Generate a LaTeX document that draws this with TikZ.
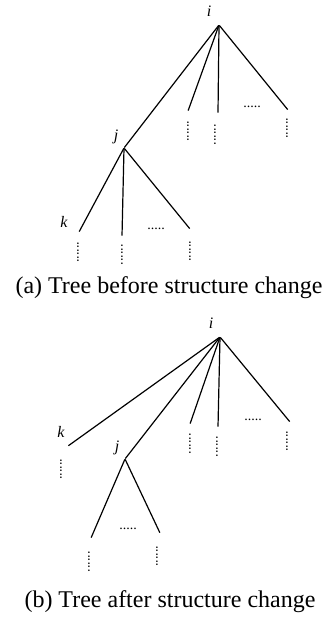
\documentclass[tikz,border=0pt]{standalone}
\usepackage{fontspec}
\setmainfont{Liberation Serif}
\usetikzlibrary{positioning}
\begin{document}
\begin{tikzpicture}[
  x=0.5pt, y=-0.5pt,
  pt/.style={inner sep=0pt, minimum size=0pt},
  lbl/.style={font=\fontsize{8}{9}\selectfont\itshape, inner sep=0pt},
  edge/.style={draw=black, line width=0.6pt},
  hdots/.style={font=\fontsize{7}{8}\selectfont, inner sep=0pt},
  vdots/.style={hdots, rotate=90},
  caption/.style={font=\fontsize{12}{14}\selectfont, inner sep=0pt}
]
\useasboundingbox (0,0) rectangle (326,619);
% --- (a) before ---
\node[pt] (ia) at (219,25) {};
\node[lbl] (ila) at (209,11) {i};
\node[pt] (ja) at (124,148) {};
\node[lbl] (jla) at (116,137) {j};
\node[pt] (a1) at (188,111) {};
\node[pt] (a2) at (218,113) {};
\node[pt] (a3) at (288,110) {};
\node[hdots] (ha1) at (252,107) {.....};
\node[pt] (ka) at (79,232) {};
\node[lbl] (kla) at (64,222) {k};
\node[pt] (a5) at (122,236) {};
\node[pt] (a6) at (190,229) {};
\node[hdots] (ha2) at (156,229) {.....};
\draw[edge] (ia)--(ja); \draw[edge] (ia)--(a1); \draw[edge] (ia)--(a2); \draw[edge] (ia)--(a3);
\draw[edge] (ja)--(ka); \draw[edge] (ja)--(a5); \draw[edge] (ja)--(a6);
\node[vdots] (va1) at (188,131.5) {......};
\node[vdots] (va2) at (215,135) {......};
\node[vdots] (va3) at (287,128.5) {......};
\node[vdots] (va4) at (78,252.5) {......};
\node[vdots] (va5) at (122,255) {......};
\node[vdots] (va6) at (190,251.5) {......};
\node[caption] (capa) at (169,288) {(a) Tree before structure change};
% --- (b) after ---
\node[pt] (ib) at (220,337) {};
\node[lbl] (ilb) at (211,323) {i};
\node[pt] (kb) at (68,446) {};
\node[lbl] (klb) at (61,432) {k};
\node[pt] (jb) at (125,459) {};
\node[lbl] (jlb) at (117,448) {j};
\node[pt] (b1) at (190,424) {};
\node[pt] (b2) at (218,427) {};
\node[pt] (b3) at (290,422) {};
\node[hdots] (hb1) at (253,420) {.....};
\node[pt] (b4) at (91,538) {};
\node[pt] (b5) at (160,533) {};
\node[hdots] (hb2) at (128,529) {.....};
\draw[edge] (ib)--(kb); \draw[edge] (ib)--(jb); \draw[edge] (ib)--(b1); \draw[edge] (ib)--(b2); \draw[edge] (ib)--(b3);
\draw[edge] (jb)--(b4); \draw[edge] (jb)--(b5);
\node[vdots] (vb0) at (61,469) {......};
\node[vdots] (vb1) at (190,443.5) {......};
\node[vdots] (vb2) at (217,446.5) {......};
\node[vdots] (vb3) at (287,441) {......};
\node[vdots] (vb4) at (89,561.5) {......};
\node[vdots] (vb5) at (157,556) {......};
\node[caption] (capb) at (170,602) {(b) Tree after structure change};
\end{tikzpicture}
\end{document}
